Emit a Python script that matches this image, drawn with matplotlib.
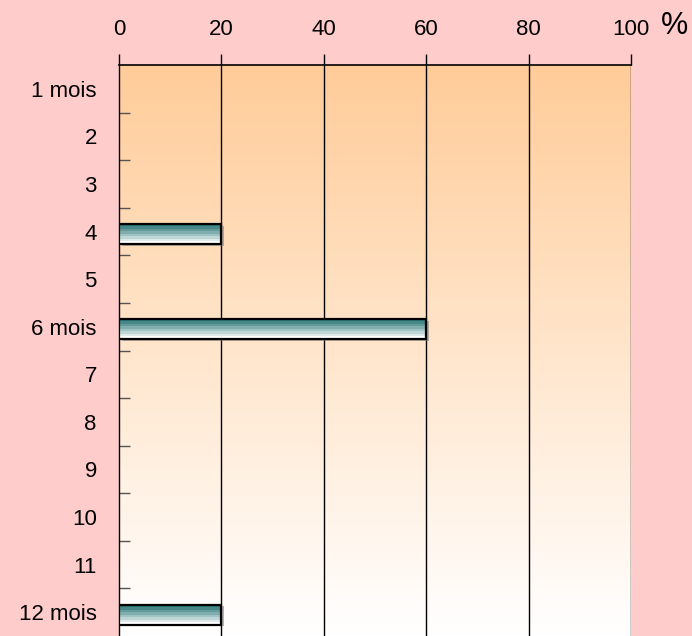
import numpy as np
import matplotlib.pyplot as plt
from matplotlib.colors import LinearSegmentedColormap
from matplotlib.patches import Rectangle

categories = ['1 mois', '2', '3', '4', '5', '6 mois', '7', '8', '9', '10', '11', '12 mois']
values = [0, 0, 0, 20, 0, 60, 0, 0, 0, 0, 0, 20]
x_ticks = [0, 20, 40, 60, 80, 100]

BG = '#FFCCCC'
bar_h = 0.42

plt.rcParams['font.family'] = ['Liberation Sans', 'DejaVu Sans']

fig = plt.figure(figsize=(6.92, 6.36), dpi=100)
fig.patch.set_facecolor(BG)
ax = fig.add_axes([119 / 692, 0.0, 512 / 692, 1 - 65 / 636])

n = len(categories)
ax.set_xlim(0, 100)
ax.set_ylim(n - 0.5, -0.5)

# plot area gradient: peach at top to white at bottom
bg_cmap = LinearSegmentedColormap.from_list('bg', ['#FFCC99', '#FFFFFF'])
grad = np.linspace(0, 1, 256).reshape(-1, 1)
ax.imshow(grad, cmap=bg_cmap, aspect='auto', extent=(0, 100, n - 0.5, -0.5),
          zorder=0, interpolation='bilinear')

# vertical grid
for t in x_ticks[1:]:
    ax.axvline(t, color='black', lw=1, zorder=1)

# bars with teal->white gradient and a grey shadow
bar_cmap = LinearSegmentedColormap.from_list('bar', ['#2A7676', '#8FB8B8', '#FFFFFF'])
bar_grad = np.linspace(0, 1, 8).reshape(-1, 1)
for i, v in enumerate(values):
    if v <= 0:
        continue
    y0 = i - bar_h / 2 + 0.05
    ax.add_patch(Rectangle((0.5, y0 + 0.04), v, bar_h, facecolor='#808080',
                           edgecolor='none', alpha=0.6, zorder=2))
    ax.imshow(bar_grad, cmap=bar_cmap, aspect='auto',
              extent=(0, v, y0 + bar_h, y0), zorder=3, interpolation='nearest')
    ax.add_patch(Rectangle((0, y0), v, bar_h, facecolor='none',
                           edgecolor='black', lw=1.6, zorder=4))

# axes styling
ax.xaxis.tick_top()
ax.set_xticks(x_ticks)
ax.set_xticklabels([str(t) for t in x_ticks], fontsize=16)
ax.tick_params(axis='x', direction='out', length=8, width=1, color='black', pad=10)

ax.set_yticks(range(n))
ax.set_yticklabels(categories, fontsize=16)
ax.set_yticks([k + 0.5 for k in range(n - 1)], minor=True)
ax.tick_params(axis='y', which='major', length=0, pad=16)
ax.tick_params(axis='y', which='minor', direction='in', length=8, width=1, color='#555555')

for s in ['right', 'bottom']:
    ax.spines[s].set_visible(False)
ax.spines['top'].set_linewidth(1.2)
ax.spines['left'].set_linewidth(1)

fig.text(675 / 692, 1 - 26 / 636, '%', fontsize=22, ha='center', va='center')

fig.savefig('out.png', dpi=100, facecolor=BG)
